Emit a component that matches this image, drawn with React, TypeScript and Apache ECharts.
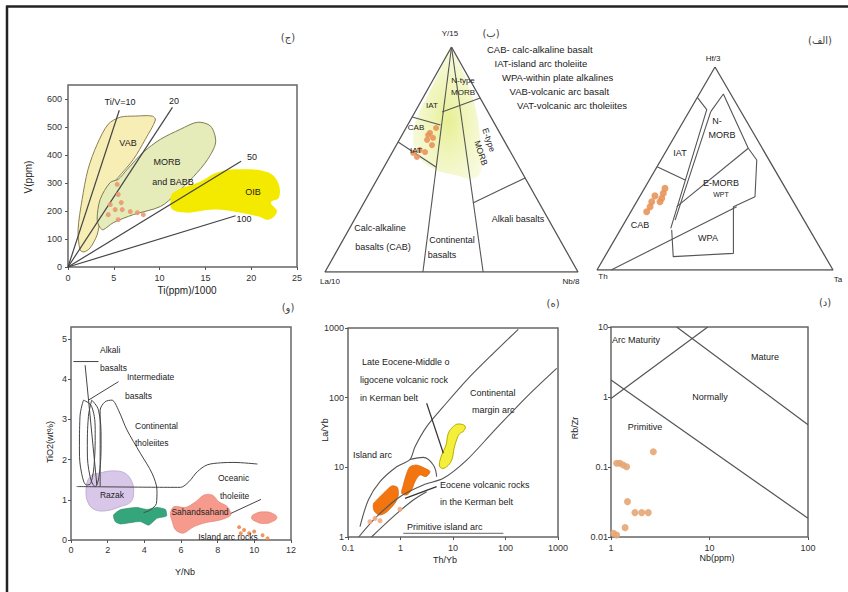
import React, { useEffect, useRef } from "react";
import * as echarts from "echarts";

const FONT = '"Liberation Sans", Arial, Helvetica, sans-serif';
const FA = '"DejaVu Sans", "Noto Sans", sans-serif';

// ---------- Panel (ج): Ti/1000 vs V (Shervais) ----------
const tvXTicks = [0, 5, 10, 15, 20, 25];
const tvYTicks = [0, 100, 200, 300, 400, 500, 600];
const tvYMax = 650;
const tvVAB = [[1.32, 61], [1.1, 133], [1.54, 241], [2.19, 349], [3.18, 438], [4.39, 510], [5.7, 535], [7.35, 539], [9.21, 539], [9.54, 525], [8.44, 456], [7.13, 384], [5.48, 320], [4.82, 295], [4.06, 241], [3.51, 169], [3.18, 115], [2.41, 68], [1.75, 54]];
const tvMORB = [[3.51, 140], [3.18, 169], [3.51, 241], [4.61, 302], [5.48, 313], [6.47, 349], [8.22, 410], [10.09, 456], [12.28, 492], [14.14, 517], [15.57, 503], [16.12, 446], [15.24, 384], [13.71, 323], [11.73, 259], [10.09, 216], [7.13, 187], [4.93, 158], [3.84, 133]];
const tvOIB = [[11.18, 234], [11.51, 266], [14.47, 305], [16.34, 338], [18.86, 349], [21.82, 338], [22.92, 302], [23.03, 248], [22.15, 230], [22.81, 198], [21.93, 169], [20.83, 180], [18.86, 194], [15.9, 205], [13.05, 194], [11.4, 205]];
const tvLine10 = [[0, 0], [5.6, 560]];
const tvLine20 = [[0, 0], [11.4, 570]];
const tvLine50 = [[0, 0], [18.9, 378]];
const tvLine100 = [[0, 0], [18.3, 183]];
const tvSamples = [[5.37, 295], [5.48, 259], [4.61, 223], [5.15, 205], [5.92, 205], [6.8, 198], [7.57, 194], [8.22, 187], [5.48, 169], [4.39, 187], [5.81, 230]];

// ---------- Panel (ب): La/10 - Y/15 - Nb/8 ternary, [Y/15, La/10, Nb/8] % ----------
const clOutline = [[100, 0, 0], [0, 100, 0], [0, 0, 100], [100, 0, 0]];
const clBoundaries = [
  [[100, 0, 0], [0, 61.3, 38.7]],
  [[100, 0, 0], [0, 37.5, 62.5]],
  [[30.7, 26.2, 43.1], [41.8, 0, 58.2]],
  [[71.1, 18.2, 10.7], [77.3, 0, 22.7]],
  [[68.9, 31.1, 0], [65.3, 21.7, 13]],
  [[57.8, 42.2, 0], [46.7, 32.8, 20.5]],
];
const clShade = [[98.7, 1.2, 0.1], [89.8, 9.6, 0.6], [78.7, 19.9, 1.4], [69.8, 28.3, 1.9], [60.9, 34.7, 4.4], [52, 37.2, 10.8], [46.2, 34.6, 19.2], [43.1, 27, 29.9], [41.8, 19.8, 38.4], [47.6, 14.1, 38.3], [58.7, 9.3, 32], [69.8, 5, 25.2], [80.9, 2.2, 16.9], [92, 0.6, 7.4]];
const clSamples = [[61.8, 27.6, 10.6], [58.7, 30.3, 11], [56.4, 29.5, 14.1], [54.2, 35.4, 10.4], [52.9, 38.7, 8.4], [51.1, 38.1, 10.8], [53.3, 33.8, 12.9], [59.6, 27.5, 12.9], [60.9, 28.8, 10.3], [64, 24.1, 11.9]];
const clLegend = [
  "CAB- calc-alkaline basalt",
  "IAT-island arc tholeiite",
  "WPA-within plate alkalines",
  "VAB-volcanic arc basalt",
  "VAT-volcanic arc tholeiites",
];

// ---------- Panel (الف): Hf/3 - Th - Ta ternary, [Hf/3, Th, Ta] % ----------
const wdOutline = [[100, 0, 0], [0, 100, 0], [0, 0, 100], [100, 0, 0]];
const wdBoundaries = [
  [[85, 15, 0], [79, 14, 7], [20.5, 58.5, 21]],
  [[78, 12.8, 9.2], [24.6, 54.6, 20.8]],
  [[50.9, 49.1, 0], [44.3, 40.5, 15.2]],
  [[31.2, 50.6, 18.2], [60, 5.9, 34.1]],
  [[0, 94, 6], [31.2, 25.2, 43.6]],
];
const wdOuter = [[78, 12.8, 9.2], [86.7, 3.1, 10.2], [60, 5.9, 34.1], [54.2, 5.2, 40.6], [36.1, 15, 48.9], [31.2, 26.6, 42.2], [8.2, 38.1, 53.7], [6.6, 64.4, 29], [19.7, 58.5, 21.8]];
const wdSamples = [[40.2, 51.1, 8.7], [37.8, 53, 9.2], [35.3, 54.9, 9.8], [33.6, 60, 6.4], [31.2, 61.9, 6.9], [28.7, 64.6, 6.7], [33.6, 56.5, 9.9], [36.5, 57.2, 6.3]];

// ---------- Panel (و): Y/Nb vs TiO2 ----------
const ynXTicks = [0, 2, 4, 6, 8, 10, 12];
const ynYTicks = [0, 1, 2, 3, 4, 5];
const ynYMax = 5.3;
const ynLoop1 = [[0.68, 3.48], [0.49, 3.07], [0.46, 2.24], [0.58, 1.66], [0.86, 1.37], [1.08, 1.41], [1.28, 1.99], [1.32, 2.65], [1.13, 3.32]];
const ynLoop2 = [[1.13, 3.48], [0.95, 3.07], [0.89, 2.24], [1.04, 1.58], [1.32, 1.33], [1.55, 1.66], [1.64, 2.49], [1.5, 3.23]];
const ynContTh = [[1.59, 1.33], [1.59, 3.23], [1.86, 3.44], [2.23, 3.48], [2.59, 3.23], [3.05, 2.74], [3.78, 2.16], [4.42, 1.66], [4.69, 1.24], [4.66, 0.91], [4.33, 0.75], [3.96, 0.68]];
const ynOceanTh = [[0.31, 1.33], [5.97, 1.31], [6.43, 1.45], [6.89, 1.7], [7.43, 1.87], [8.16, 1.92], [8.89, 1.93], [10.17, 1.89]];
const ynOceanLow = [[8.71, 0.66], [10.36, 1.01]];
const ynAlkaliBound = [[0.77, 4.35], [1.41, 1.37]];
const ynAlkaliPtr = [[0.13, 4.44], [1.5, 4.44]];
const ynInterPtr = [[0.95, 3.48], [2.59, 3.94]];
const ynLavender = [[0.82, 1.24], [1.04, 1.58], [1.59, 1.67], [2.32, 1.72], [2.96, 1.66], [3.32, 1.45], [3.42, 1.2], [3.27, 0.95], [2.68, 0.83], [1.95, 0.73], [1.32, 0.75], [0.95, 0.91]];
const ynGreen = [[2.32, 0.62], [2.68, 0.75], [3.14, 0.79], [3.6, 0.81], [4.15, 0.76], [4.69, 0.81], [5.15, 0.76], [5.21, 0.6], [4.69, 0.54], [4.24, 0.37], [3.78, 0.46], [3.23, 0.43], [2.68, 0.4], [2.41, 0.46]];
const ynSalmon = [[5.42, 0.66], [5.61, 0.83], [6.25, 0.81], [6.79, 0.95], [7.25, 1.12], [7.71, 1.12], [8.07, 0.95], [8.53, 0.83], [8.71, 0.62], [8.16, 0.5], [7.34, 0.43], [6.7, 0.33], [6.12, 0.17], [5.7, 0.25], [5.52, 0.46]];
const ynEllipse = [[9.84, 0.56], [10.08, 0.66], [10.54, 0.7], [11.0, 0.66], [11.23, 0.56], [11.0, 0.46], [10.54, 0.41], [10.08, 0.46]];
const ynSamples = [[9.17, 0.32], [9.44, 0.25], [9.26, 0.17], [9.99, 0.21], [10.45, 0.12], [10.72, 0.04], [9.72, 0.17]];

// ---------- Panel (ه): Th/Yb vs La/Yb (log) ----------
const tyXRange = [0.1, 1000];
const tyYRange = [1, 1000];
const tyUpper = [[0.169, 1.41], [0.244, 3.4], [0.407, 6.23], [0.845, 10.2], [1.52, 13.0], [1.89, 19.8], [3.15, 38.4], [6.54, 74.3], [18.2, 179], [58.6, 433], [175, 957]];
const tyLower = [[0.16, 1], [0.352, 1.96], [0.977, 3.79], [2.72, 5.58], [6.54, 6.95], [18.2, 12.7], [58.6, 32.5], [253, 103], [944, 264]];
const tyCap = [[1.52, 13.0], [2.72, 13.9], [4.22, 10.8], [4.88, 7.35]];
const tyPrimitive = [[0.28, 1], [0.729, 1.96], [1.75, 3.4], [3.15, 4.47]];
const tyYellow = [[5.5, 10.8], [6.09, 15.0], [7.36, 20.9], [8.15, 30.8], [10.1, 38.4], [12.6, 41.9], [16.9, 39.2], [16.2, 33.6], [13.2, 30.1], [11.7, 24.7], [10.5, 18.7], [9.44, 12.7], [7.57, 10.2], [6.08, 9.68]];
const tyOrange1 = [[1.31, 8.2], [1.52, 10.2], [2.03, 10.8], [2.93, 9.68], [3.65, 8.67], [3.06, 7.35], [2.35, 7.76], [1.89, 6.23], [1.63, 4.73], [1.31, 4.01], [1.05, 4.23], [1.13, 5.58]];
const tyOrange2 = [[0.352, 3.4], [0.507, 4.47], [0.679, 5.4], [0.871, 5.16], [0.91, 4.01], [0.82, 3.21], [0.65, 2.58], [0.507, 2.19], [0.395, 2.07], [0.313, 2.39], [0.304, 2.98]];
const tySamples = [[0.327, 1.85], [0.407, 1.71], [0.977, 2.5], [0.262, 1.66]];
const tyPointer1 = [[3.15, 83], [6.54, 15.9]];
const tyPointer2 = [[4.88, 5.28], [1.22, 3.59]];
const tyUnderline = [[1.13, 1.13], [91, 1.13]];

// ---------- Panel (د): Nb vs Rb/Zr (log) ----------
const rzXRange = [1, 100];
const rzYRange = [0.01, 10];
const rzLine1 = [[1, 0.95], [9.6, 10]];
const rzLine2 = [[4.64, 10], [100, 0.4]];
const rzLine3 = [[1, 1.75], [100, 0.0185]];
const rzSamples = [[2.69, 0.165], [1.14, 0.113], [1.23, 0.113], [1.33, 0.107], [1.44, 0.101], [1.47, 0.032], [1.75, 0.0223], [2.05, 0.0223], [2.39, 0.0223], [1.39, 0.0136], [1.14, 0.0107], [1.06, 0.0113]];

// ---------- helpers ----------
function t2xy(t: number[]): number[] {
  const s = t[0] + t[1] + t[2];
  const top = t[0] / s;
  const right = t[2] / s;
  return [right + top * 0.5, top];
}

function lineS(gi: number, data: number[][], color = "#555", width = 1.2, smooth: number | boolean = false, z = 6) {
  return {
    type: "line", xAxisIndex: gi, yAxisIndex: gi, data, showSymbol: false, symbol: "none",
    silent: true, smooth, z, animation: false,
    lineStyle: { color, width },
  };
}

function polyS(gi: number, pts: number[][], fill: any, stroke: string | null, lw = 1, smooth = 0, z = 3) {
  return {
    type: "custom", xAxisIndex: gi, yAxisIndex: gi, silent: true, z, animation: false,
    data: [pts[0]],
    renderItem: (_p: any, api: any) => ({
      type: "polygon",
      shape: { points: pts.map((p) => api.coord(p)), smooth },
      style: { fill, stroke: stroke || "none", lineWidth: lw },
    }),
  };
}

function scatS(gi: number, data: number[][], color: string, size = 6, z = 10) {
  return {
    type: "scatter", xAxisIndex: gi, yAxisIndex: gi, data, symbolSize: size, silent: true, z,
    itemStyle: { color, opacity: 0.9 }, animation: false,
  };
}

function txt(x: number, y: number, text: string, size = 9, opt: any = {}) {
  return {
    type: "text", x, y, silent: true, z: 100, rotation: opt.rot || 0,
    style: {
      text, fontSize: size, fontFamily: opt.font || FONT, fill: opt.color || "#222",
      textAlign: opt.align || "center", textVerticalAlign: "middle",
    },
  };
}

const tickLabel = { fontSize: 9, color: "#333", fontFamily: FONT };
const boxGrid = { show: true, borderColor: "#666", borderWidth: 1.5, backgroundColor: "transparent" };

function valAxis(gi: number, ticks: number[], max: number, margin: number, hideMax = false) {
  return {
    gridIndex: gi, type: "value", min: ticks[0], max, interval: ticks[1] - ticks[0],
    axisLine: { show: false }, splitLine: { show: false },
    axisTick: { show: true, length: 3, lineStyle: { color: "#555" } },
    axisLabel: { ...tickLabel, margin, showMaxLabel: !hideMax },
  };
}

function logAxis(gi: number, range: number[], margin: number) {
  return {
    gridIndex: gi, type: "log", logBase: 10, min: range[0], max: range[1],
    axisLine: { show: false }, splitLine: { show: false }, minorTick: { show: false },
    axisTick: { show: true, length: 3, lineStyle: { color: "#555" } },
    axisLabel: { ...tickLabel, margin, formatter: (v: number) => String(+v.toPrecision(3)) },
  };
}

function hiddenAxis(gi: number) {
  return { gridIndex: gi, type: "value", min: 0, max: 1, show: false };
}

function buildOption() {
  const grid = [
    { left: 68, top: 85, width: 229, height: 182, ...boxGrid },
    { left: 325, top: 47, width: 253, height: 225, show: false },
    { left: 597, top: 67, width: 236, height: 203, show: false },
    { left: 71, top: 327, width: 220, height: 213, ...boxGrid },
    { left: 348, top: 328, width: 210, height: 209, ...boxGrid },
    { left: 611, top: 327, width: 197, height: 210, ...boxGrid },
  ];
  const xAxis = [
    valAxis(0, tvXTicks, tvXTicks[tvXTicks.length - 1], 6),
    hiddenAxis(1), hiddenAxis(2),
    valAxis(3, ynXTicks, ynXTicks[ynXTicks.length - 1], 5),
    logAxis(4, tyXRange, 6),
    logAxis(5, rzXRange, 6),
  ];
  const yAxis = [
    valAxis(0, tvYTicks, tvYMax, 6, true),
    hiddenAxis(1), hiddenAxis(2),
    valAxis(3, ynYTicks, ynYMax, 4, true),
    logAxis(4, tyYRange, 4),
    logAxis(5, rzYRange, 3),
  ];

  const tern = (a: number[][]) => a.map(t2xy);
  const orange = "#e8945a";
  const series: any[] = [
    // panel ج
    polyS(0, tvVAB, "#f7eeb5", "#8c7f52", 1, 0.3, 2),
    polyS(0, tvMORB, "#e5ebb9", "#7f7b52", 1, 0.3, 3),
    polyS(0, tvOIB, "#f4ea00", null, 1, 0.4, 4),
    lineS(0, tvLine10, "#444", 1.2),
    lineS(0, tvLine20, "#444", 1.2),
    lineS(0, tvLine50, "#444", 1.2),
    lineS(0, tvLine100, "#444", 1.2),
    scatS(0, tvSamples, "#e89a70", 5),
    // panel ب
    polyS(1, tern(clShade), new echarts.graphic.RadialGradient(0.5, 0.55, 0.6, [
      { offset: 0, color: "rgba(222,234,110,0.75)" },
      { offset: 1, color: "rgba(236,242,170,0.35)" },
    ]), null, 1, 0.5, 2),
    lineS(1, tern(clOutline), "#555", 1.3),
    ...clBoundaries.map((b) => lineS(1, tern(b), "#555", 1.1)),
    scatS(1, tern(clSamples), orange, 6),
    // panel الف
    lineS(2, tern(wdOutline), "#555", 1.3),
    ...wdBoundaries.map((b) => lineS(2, tern(b), "#555", 1.1)),
    lineS(2, tern(wdOuter), "#555", 1.1),
    scatS(2, tern(wdSamples), orange, 7),
    // panel و
    polyS(3, ynLavender, "#d9c7ea", "#b8a6cc", 0.8, 0.4, 2),
    polyS(3, ynGreen, "#35a67c", "#2b8a66", 0.6, 0.2, 2),
    polyS(3, ynSalmon, "#f59a8c", "#e08070", 0.6, 0.3, 2),
    polyS(3, ynEllipse, "#f59a8c", "#e08070", 0.6, 0.5, 2),
    lineS(3, ynLoop1.concat([ynLoop1[0]]), "#444", 1, 0.4),
    lineS(3, ynLoop2.concat([ynLoop2[0]]), "#444", 1, 0.4),
    lineS(3, ynContTh, "#444", 1, 0.3),
    lineS(3, ynOceanTh, "#444", 1, 0.3),
    lineS(3, ynOceanLow, "#444", 1),
    lineS(3, ynAlkaliBound, "#444", 1),
    lineS(3, ynAlkaliPtr, "#444", 1),
    lineS(3, ynInterPtr, "#444", 1),
    scatS(3, ynSamples, "#f08a50", 4),
    // panel ه
    polyS(4, tyYellow, "#f3ef3a", "#b9ab00", 1, 0.4, 3),
    polyS(4, tyOrange1, "#f2750f", "#d85f00", 0.6, 0.3, 3),
    polyS(4, tyOrange2, "#f2750f", "#d85f00", 0.6, 0.3, 3),
    lineS(4, tyUpper, "#555", 1.1, 0.3),
    lineS(4, tyLower, "#555", 1.1, 0.3),
    lineS(4, tyCap, "#555", 1.1, 0.4),
    lineS(4, tyPrimitive, "#555", 1.1, 0.3),
    lineS(4, tyPointer1, "#333", 1.2),
    lineS(4, tyPointer2, "#333", 1.2),
    lineS(4, tyUnderline, "#666", 1),
    scatS(4, tySamples, "#efab86", 5),
    // panel د
    lineS(5, rzLine1, "#555", 1.2),
    lineS(5, rzLine2, "#555", 1.2),
    lineS(5, rzLine3, "#555", 1.2),
    scatS(5, rzSamples, "#e6a676", 7),
  ];

  const R = -Math.PI / 2;
  const graphic: any[] = [
    { type: "line", silent: true, z: 100, shape: { x1: 6, y1: 6.5, x2: 848, y2: 6.5 }, style: { stroke: "#222", lineWidth: 2.5 } },
    { type: "line", silent: true, z: 100, shape: { x1: 7, y1: 6, x2: 7, y2: 592 }, style: { stroke: "#222", lineWidth: 2.5 } },
    // panel tags
    txt(288, 37, "(ج)", 10, { font: FA, color: "#444" }),
    txt(491, 33, "(ب)", 10, { font: FA, color: "#444" }),
    txt(820, 40, "(الف)", 10, { font: FA, color: "#444" }),
    txt(288, 307, "(و)", 10, { font: FA, color: "#444" }),
    txt(553, 303, "(ه)", 10, { font: FA, color: "#444" }),
    txt(825, 302, "(د)", 10, { font: FA, color: "#444" }),
    // panel ج labels
    txt(120, 102, "Ti/V=10", 9),
    txt(174, 101, "20", 9),
    txt(252, 157, "50", 9),
    txt(244, 219, "100", 9),
    txt(128, 143, "VAB", 9),
    txt(167, 162, "MORB", 9),
    txt(173, 182, "and BABB", 9),
    txt(253, 192, "OIB", 9),
    txt(28, 177, "V(ppm)", 10, { rot: -R }),
    txt(187, 290, "Ti(ppm)/1000", 10),
    // panel ب labels
    txt(450, 33, "Y/15", 8),
    txt(330, 281, "La/10", 8),
    txt(571, 281, "Nb/8", 8),
    ...clLegend.map((s, i) => txt(487 + i * 7.5, 49 + i * 14, s, 9.5, { align: "left" })),
    txt(463, 80, "N-type", 8),
    txt(463, 92, "MORB", 8),
    txt(432, 105, "IAT", 8),
    txt(416, 127, "CAB", 8),
    txt(416, 150, "IAT", 8),
    txt(489, 140, "E-type", 8.5, { rot: -1.25 }),
    txt(481, 153, "MORB", 8.5, { rot: -1.25 }),
    txt(518, 219, "Alkali basalts", 9),
    txt(380, 228, "Calc-alkaline", 9),
    txt(383, 247, "basalts (CAB)", 9),
    txt(452, 240, "Continental", 9),
    txt(442, 255, "basalts", 9),
    // panel الف labels
    txt(713, 58, "Hf/3", 8),
    txt(603, 276, "Th", 8),
    txt(838, 279, "Ta", 8),
    txt(680, 153, "IAT", 9),
    txt(717, 121, "N-", 9),
    txt(722, 135, "MORB", 9),
    txt(721, 183, "E-MORB", 9),
    txt(721, 194, "WPT", 7),
    txt(640, 225, "CAB", 9),
    txt(708, 238, "WPA", 9),
    // panel و labels
    txt(100, 350, "Alkali", 8.5, { align: "left" }),
    txt(100, 368, "basalts", 8.5, { align: "left" }),
    txt(127, 377, "Intermediate", 8.5, { align: "left" }),
    txt(125, 396, "basalts", 8.5, { align: "left" }),
    txt(135, 426, "Continental", 8.5, { align: "left" }),
    txt(135, 443, "tholeiites", 8.5, { align: "left" }),
    txt(218, 478, "Oceanic", 8.5, { align: "left" }),
    txt(220, 496, "tholeiite", 8.5, { align: "left" }),
    txt(112, 495, "Razak", 8.5),
    txt(200, 512, "Sahandsahand", 8.5),
    txt(228, 537, "Island arc rocks", 8.5),
    txt(50, 442, "TiO2(wt%)", 9, { rot: -R }),
    txt(185, 572, "Y/Nb", 9),
    // panel ه labels
    txt(362, 362, "Late Eocene-Middle o", 9, { align: "left" }),
    txt(360, 380, "ligocene volcanic rock", 9, { align: "left" }),
    txt(360, 398, "in Kerman belt", 9, { align: "left" }),
    txt(470, 393, "Continental", 9, { align: "left" }),
    txt(472, 410, "margin arc", 9, { align: "left" }),
    txt(353, 455, "Island arc", 9, { align: "left" }),
    txt(440, 485, "Eocene volcanic rocks", 9, { align: "left" }),
    txt(440, 502, "in the Kerman belt", 9, { align: "left" }),
    txt(407, 527, "Primitive island arc", 9, { align: "left" }),
    txt(325, 430, "La/Yb", 9, { rot: -R }),
    txt(445, 560, "Th/Yb", 9),
    // panel د labels
    txt(612, 340, "Arc Maturity", 9, { align: "left" }),
    txt(765, 357, "Mature", 9),
    txt(710, 397, "Normally", 9),
    txt(645, 427, "Primitive", 9),
    txt(575, 428, "Rb/Zr", 9, { rot: -R }),
    txt(717, 558, "Nb(ppm)", 9),
  ];

  return { animation: false, backgroundColor: "#ffffff", grid, xAxis, yAxis, series, graphic };
}

export default function App() {
  const ref = useRef<HTMLDivElement>(null);
  useEffect(() => {
    const chart = echarts.init(ref.current as HTMLDivElement, null, { renderer: "svg" });
    chart.setOption(buildOption() as any);
    return () => chart.dispose();
  }, []);
  return (
    <div
      ref={ref}
      style={{ position: "fixed", left: 0, top: 0, width: 848, height: 592, background: "#fff" }}
    />
  );
}
